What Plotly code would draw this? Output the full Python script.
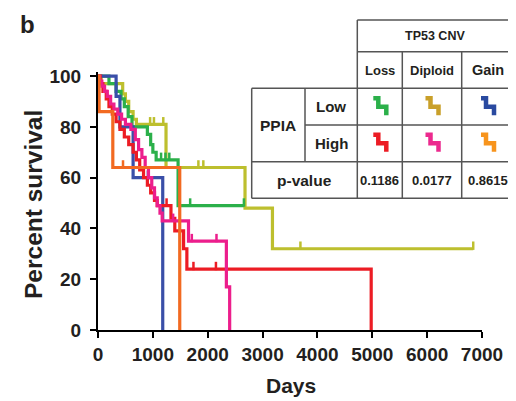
import plotly.graph_objects as go

# ---------------- data ----------------
# Kaplan-Meier step curves: event times (days) and survival (%)
loss_low_t = [0, 200, 330, 420, 480, 550, 620, 900, 960, 1000, 1060, 1460, 2660]
loss_low_s = [100, 97, 94, 91, 88, 84, 80, 77, 73, 70, 67, 49, 49]
loss_low_c = [1150, 1230, 1300, 1680, 2660]

dip_low_t = [0, 60, 450, 500, 560, 640, 700, 1240, 2680, 3180, 6840]
dip_low_s = [100, 97, 93, 90, 86, 83, 81, 64, 48, 32, 32]
dip_low_c = [950, 1020, 1190, 1830, 1920, 3690, 6840]

gain_low_t = [0, 330, 400, 640, 1180]
gain_low_s = [100, 92, 80, 60, 0]
gain_low_c = [910]

loss_high_t = [0, 40, 90, 150, 200, 260, 330, 400, 480, 560, 640, 700, 760, 830,
               900, 960, 1030, 1080, 1330, 1400, 1560, 1620, 4980]
loss_high_s = [100, 97, 94, 91, 88, 85, 82, 79, 76, 73, 70, 67, 63, 60,
               57, 54, 51, 49, 44, 39, 32, 24, 0]
loss_high_c = [1250, 1740, 2150]

dip_high_t = [0, 30, 70, 120, 170, 230, 290, 360, 430, 500, 600, 680, 740, 800,
              860, 920, 980, 1030, 1080, 1130, 1170, 1650, 2340, 2400]
dip_high_s = [100, 98, 96, 94, 92, 89, 87, 85, 83, 81, 79, 75, 71, 68,
              64, 60, 56, 52, 49, 46, 43, 35, 17, 0]
dip_high_c = [1370, 1710, 2160]

gain_high_t = [0, 20, 270, 1490]
gain_high_s = [100, 86, 64, 0]
gain_high_c = [456]

x_ticks = [0, 1000, 2000, 3000, 4000, 5000, 6000, 7000]
y_ticks = [0, 20, 40, 60, 80, 100]

cnv_labels = ["Loss", "Diploid", "Gain"]
ppia_labels = ["Low", "High"]
p_values = ["0.1186", "0.0177", "0.8615"]

# ---------------- styling ----------------
FONT = "Arial, Liberation Sans, Helvetica, sans-serif"
TXT = "#231f20"
OFF = 8                      # page body margin
W, H = 516 - OFF, 401 - OFF
L, R, T, B = 90, 34, 64, 71
PW, PH = W - L - R, H - T - B
YMAX = 101.6

line_cols = {
    "Loss_Low": "#2bb04a", "Diploid_Low": "#bdbf2e", "Gain_Low": "#3a4fa8",
    "Loss_High": "#ec1c24", "Diploid_High": "#ec1e8c", "Gain_High": "#f26a21",
}
icon_cols = {
    "Loss_Low": "#2bb04a", "Diploid_Low": "#c9a02a", "Gain_Low": "#2a4aa0",
    "Loss_High": "#ec1c24", "Diploid_High": "#ec2a8e", "Gain_High": "#f7941d",
}

series = [
    ("Diploid_Low", dip_low_t, dip_low_s, dip_low_c),
    ("Loss_Low", loss_low_t, loss_low_s, loss_low_c),
    ("Gain_Low", gain_low_t, gain_low_s, gain_low_c),
    ("Loss_High", loss_high_t, loss_high_s, loss_high_c),
    ("Diploid_High", dip_high_t, dip_high_s, dip_high_c),
    ("Gain_High", gain_high_t, gain_high_s, gain_high_c),
]


def surv_at(t_list, s_list, t):
    v = s_list[0]
    for tt, ss in zip(t_list, s_list):
        if tt <= t:
            v = ss
    return v


fig = go.Figure()
for name, t, s, c in series:
    col = line_cols[name]
    fig.add_trace(go.Scatter(x=t, y=s, mode="lines", line=dict(color=col, width=3.2, shape="hv"),
                             showlegend=False, hoverinfo="skip"))
    cy = [surv_at(t, s, ci) + 1.2 for ci in c]
    fig.add_trace(go.Scatter(x=c, y=cy, mode="markers", showlegend=False, hoverinfo="skip",
                             marker=dict(symbol="line-ns", size=6, line=dict(color=col, width=2.5))))


# reference-pixel -> paper coordinates
def px(x):
    return (x - OFF - L) / PW


def py(y):
    return (H - B - (y - OFF)) / PH


shapes = []
ann = []

# table geometry (reference pixels)
xs = [251.7, 305, 357.3, 402.3, 461.7, 513.3]
ys = [20, 51.7, 88.3, 125, 161.7, 198.3]
GRID = dict(color="#555555", width=1.5)

shapes.append(dict(type="rect", xref="paper", yref="paper", x0=px(xs[2]), x1=px(xs[5]),
                   y0=py(ys[2]), y1=py(ys[0]), fillcolor="white", line=dict(width=0), layer="above"))
shapes.append(dict(type="rect", xref="paper", yref="paper", x0=px(xs[0]), x1=px(xs[5]),
                   y0=py(ys[5]), y1=py(ys[2]), fillcolor="white", line=dict(width=0), layer="above"))


def hline(y, x0, x1):
    shapes.append(dict(type="line", xref="paper", yref="paper", x0=px(x0), x1=px(x1),
                       y0=py(y), y1=py(y), line=GRID, layer="above"))


def vline(x, y0, y1):
    shapes.append(dict(type="line", xref="paper", yref="paper", x0=px(x), x1=px(x),
                       y0=py(y0), y1=py(y1), line=GRID, layer="above"))


hline(ys[0], xs[2], xs[5])
hline(ys[1], xs[2], xs[5])
hline(ys[2], xs[0], xs[5])
hline(ys[3], xs[1], xs[5])
hline(ys[4], xs[0], xs[5])
hline(ys[5], xs[0], xs[5])
vline(xs[0], ys[2], ys[5])
vline(xs[1], ys[2], ys[4])
vline(xs[2], ys[0], ys[5])
vline(xs[3], ys[1], ys[5])
vline(xs[4], ys[1], ys[5])
vline(xs[5], ys[0], ys[5])


def text(x, y, s, size, rot=0):
    ann.append(dict(x=px(x), y=py(y), xref="paper", yref="paper", text=s, showarrow=False,
                    xanchor="center", yanchor="middle", textangle=rot,
                    font=dict(family=FONT, size=size, color=TXT, weight="bold")))


col_c = [(xs[i] + xs[i + 1]) / 2 for i in range(5)]
row_c = [(ys[i] + ys[i + 1]) / 2 for i in range(5)]

text((xs[2] + xs[5]) / 2, row_c[0], "TP53 CNV", 12.5)
cnv_sizes = [13, 13, 14.5]
for i, lab in enumerate(cnv_labels):
    text(col_c[2 + i], row_c[1], lab, cnv_sizes[i])
text(col_c[0], ys[3], "PPIA", 15.5)
for i, lab in enumerate(ppia_labels):
    text(col_c[1], row_c[2 + i], lab, 15)
text((xs[0] + xs[2]) / 2, row_c[4], "p-value", 15.5)
for i, pv in enumerate(p_values):
    text(col_c[2 + i], row_c[4], pv, 13)

# step icons
keys = [["Loss_Low", "Diploid_Low", "Gain_Low"], ["Loss_High", "Diploid_High", "Gain_High"]]
for r in range(2):
    for c in range(3):
        cx, cy = col_c[2 + c], row_c[2 + r]
        w, h = 13, 17
        x0, y0 = cx - w / 2, cy - h / 2
        pts = [(x0, y0), (x0 + 5, y0), (x0 + 5, cy), (x0 + w, cy), (x0 + w, y0 + h)]
        path = "M " + " L ".join(f"{px(a):.5f},{py(b):.5f}" for a, b in pts)
        shapes.append(dict(type="path", xref="paper", yref="paper", path=path,
                           line=dict(color=icon_cols[keys[r][c]], width=4.5), layer="above"))

# axis titles and panel label
text(33, 205, "Percent survival", 24.5, rot=-90)
text(291, 385, "Days", 21)
ann.append(dict(x=px(18), y=py(OFF + 0.5), xref="paper", yref="paper", text="b", showarrow=False,
                xanchor="left", yanchor="top",
                font=dict(family=FONT, size=24, color=TXT, weight="bold")))

axis_common = dict(ticks="outside", ticklen=6, tickwidth=2, tickcolor="black", showline=True,
                   linecolor="black", linewidth=2, showgrid=False, zeroline=False,
                   tickfont=dict(family=FONT, size=19, color=TXT, weight="bold"))

fig.update_layout(
    width=W, height=H, margin=dict(l=L, r=R, t=T, b=B),
    paper_bgcolor="white", plot_bgcolor="white",
    shapes=shapes, annotations=ann,
    xaxis=dict(range=[0, 7000], tickvals=x_ticks, **axis_common),
    yaxis=dict(range=[0, YMAX], tickvals=y_ticks, ticklabelstandoff=5, **axis_common),
)

fig.write_html("out.html")
